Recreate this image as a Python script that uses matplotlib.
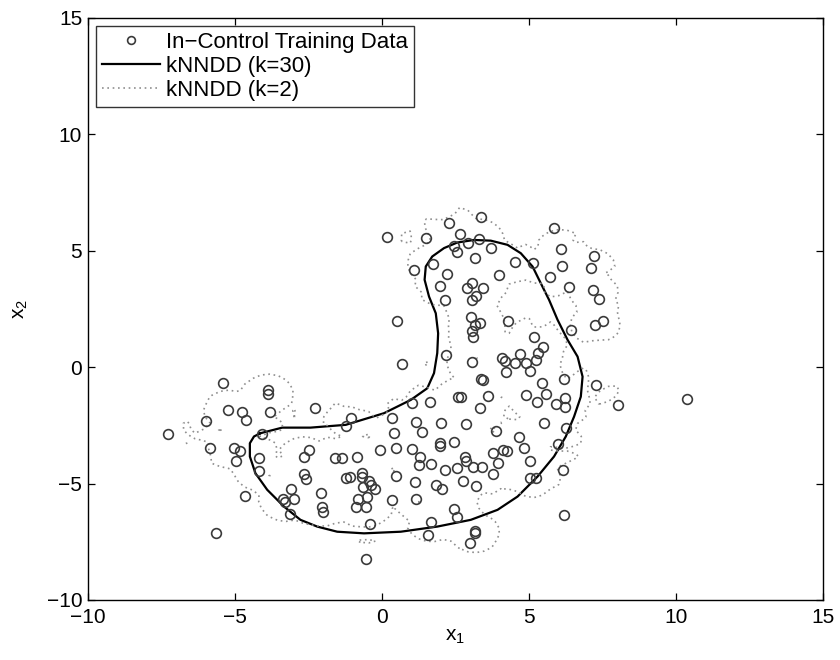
import numpy as np
import matplotlib
matplotlib.use("Agg")
import matplotlib.pyplot as plt

# ---- data ----
x1 = [-5.41, -3.86, -3.86, -5.22, -5.99, -4.77, -4.61, -3.80, -7.27, -4.08,
      -5.83, -5.04, -4.83, -4.95, -4.18, -4.18, -2.65, -2.48, -2.66, -2.58,
      -3.10, -3.35, -3.28, -3.00, -3.14, -4.65, -5.65,
      -2.26, -1.04, -1.23, 1.03, 1.65, 2.59, 2.70, 0.34, 1.15, 2.02, 2.86,
      0.41, 1.36, 1.96, 1.98, 2.44, -1.59, -1.35, -0.86, -0.07, 0.49, 1.02,
      1.31, 1.27, 1.68, 2.16, 2.54, 2.84, 2.86, 2.77, -1.23, -1.09, -0.68,
      -0.68, -0.44, -0.38, -0.63, -0.25, -0.50, -0.82, -0.89, -0.55, 0.49,
      1.11, 1.85, 2.04, 0.35, 1.17, -2.08, -2.03, -2.01, -0.42, 1.68, 2.44,
      2.54, 1.56, 2.98, -0.54,
      3.38, 3.45, 7.26, 8.02, 3.61, 3.33, 4.91, 5.26, 5.57, 5.91, 6.21, 6.21,
      3.89, 5.51, 6.24, 4.66, 4.83, 6.00, 3.77, 4.13, 4.24, 3.93, 3.11, 3.40,
      5.02, 3.78, 3.20, 5.02, 5.22, 6.17, 6.20, 3.16, 3.16, 10.36,
      0.16, 1.50, 2.29, 3.38, 2.65, 2.93, 3.29, 2.45, 2.54, 3.72, 3.16, 1.72,
      1.09, 2.22, 3.98, 1.97, 2.90, 3.05, 3.45, 3.19, 2.13, 3.07, 0.50, 3.02,
      3.16, 3.32, 3.07, 3.11, 4.29, 2.17, 0.69, 3.05, 4.08, 4.18, 4.23,
      5.85, 6.08, 6.11, 4.52, 5.15, 5.71, 6.35, 7.21, 7.10, 7.18, 7.38, 7.25,
      7.50, 6.44, 5.17, 5.46, 5.29, 4.68, 4.52, 4.89, 5.03, 5.23, 5.43, 6.19]
x2 = [-0.67, -1.00, -1.15, -1.84, -2.31, -1.91, -2.27, -1.95, -2.87, -2.87,
      -3.49, -3.49, -3.60, -4.03, -3.89, -4.46, -3.84, -3.58, -4.60, -4.81,
      -5.24, -5.67, -5.78, -5.65, -6.31, -5.55, -7.12,
      -1.74, -2.20, -2.53, -1.55, -1.52, -1.29, -1.27, -2.20, -2.37, -2.38, -2.45,
      -2.81, -2.77, -3.24, -3.41, -3.20, -3.91, -3.90, -3.88, -3.56, -3.46, -3.50,
      -3.87, -4.21, -4.16, -4.43, -4.32, -3.87, -4.03, -4.89, -4.75, -4.73, -4.56,
      -4.73, -4.88, -5.06, -5.16, -5.23, -5.59, -5.66, -5.99, -6.03, -4.66,
      -4.94, -5.07, -5.23, -5.70, -5.66, -5.42, -5.99, -6.21, -6.75, -6.65, -6.10,
      -6.42, -7.21, -7.57, -8.25,
      -0.53, -0.56, -0.75, -1.61, -1.24, -1.77, -1.19, -1.52, -1.16, -1.59, -1.34, -1.70,
      -2.73, -2.38, -2.60, -3.01, -3.48, -3.31, -3.67, -3.56, -3.60, -4.13, -4.30, -4.30,
      -4.02, -4.60, -5.12, -4.77, -4.77, -4.44, -6.35, -7.02, -7.12, -1.38,
      5.58, 5.55, 6.18, 6.44, 5.71, 5.35, 5.51, 5.18, 4.94, 5.13, 4.70, 4.42,
      4.18, 3.99, 3.96, 3.49, 3.39, 3.60, 3.41, 3.06, 2.86, 2.86, 2.00, 2.14,
      1.81, 1.91, 1.55, 1.31, 2.00, 0.52, 0.14, 0.20, 0.39, 0.28, -0.19,
      5.99, 5.06, 4.35, 4.51, 4.46, 3.86, 3.43, 4.79, 4.25, 3.29, 2.93, 1.81,
      2.00, 1.60, 1.31, 0.88, 0.62, 0.55, 0.17, 0.19, -0.16, 0.31, -0.67, -0.52]

# kNNDD (k=30) boundary
k30_x = [-4.13, -3.39, -2.43, -1.23, 0.07, 0.98, 1.54, 1.77, 1.88, 1.91,
         1.83, 1.60, 1.45, 1.49, 1.71, 2.11, 2.56, 3.13, 3.70, 4.27,
         4.72, 5.12, 5.40, 5.68, 5.97, 6.31, 6.65, 6.82, 6.76, 6.53,
         6.25, 5.85, 5.29, 4.61, 3.93, 3.02, 1.88, 0.64, -0.61, -1.52,
         -2.20, -2.77, -3.33, -3.90, -4.30, -4.49, -4.49, -4.35, -4.13]
k30_y = [-2.84, -2.60, -2.60, -2.48, -1.98, -1.41, -0.91, -0.26, 0.60, 1.45,
         2.31, 3.03, 3.75, 4.32, 4.75, 5.11, 5.35, 5.46, 5.43, 5.25,
         4.89, 4.32, 3.60, 2.89, 2.03, 1.17, 0.45, -0.41, -1.27, -2.13,
         -2.98, -3.84, -4.70, -5.56, -6.13, -6.56, -6.85, -7.07, -7.14, -7.07,
         -6.85, -6.56, -5.99, -5.27, -4.56, -3.84, -3.27, -2.98, -2.84]

k_small = 2
frac_reject_small = 0.28
labels = ["In\u2212Control Training Data", "kNNDD (k=30)", "kNNDD (k=2)"]
xticks = [-10, -5, 0, 5, 10, 15]
yticks = [-10, -5, 0, 5, 10, 15]

X = np.column_stack([x1, x2])


def knn_dist(points, train, k, exclude_self=False):
    out = []
    for i in range(0, len(points), 20000):
        p = points[i:i + 20000]
        d = np.sqrt(((p[:, None, :] - train[None, :, :]) ** 2).sum(-1))
        d = np.sort(d, axis=1)
        if exclude_self:
            d = d[:, 1:]
        out.append(d[:, k - 1])
    return np.concatenate(out)


plt.rcParams['font.family'] = ['Liberation Sans', 'DejaVu Sans']
plt.rcParams['mathtext.fontset'] = 'custom'
plt.rcParams['mathtext.rm'] = 'Liberation Sans'
plt.rcParams['mathtext.it'] = 'Liberation Sans'

fig = plt.figure(figsize=(8.4, 6.6), dpi=100)
ax = fig.add_axes([0.1045, 0.091, 0.8755, 0.882])

h_pts, = ax.plot(x1, x2, 'o', ls='none', mfc='none', mec='#3a3a3a',
                 mew=1.2, ms=7, label=labels[0], zorder=3)

h30, = ax.plot(k30_x, k30_y, color='black', lw=1.6, ls='solid',
               label=labels[1], zorder=2, solid_joinstyle='round')

dot_ls = (0, (1, 2.2))
g = np.linspace(-10, 15, 90)
GX, GY = np.meshgrid(g, g)
G = np.column_stack([GX.ravel(), GY.ravel()])
thr = np.quantile(knn_dist(X, X, k_small, exclude_self=True), 1 - frac_reject_small)
F = knn_dist(G, X, k_small).reshape(GX.shape)
ax.contour(GX, GY, F, levels=[thr], colors=['#8f8f8f'],
           linewidths=[1.2], linestyles=[dot_ls])
h2, = ax.plot([], [], color='#8f8f8f', lw=1.2, ls=dot_ls, label=labels[2])

ax.set_xlim(-10, 15)
ax.set_ylim(-10, 15)
ax.set_xticks(xticks)
ax.set_yticks(yticks)
ax.set_xticklabels([str(t).replace('-', '\u2212') for t in xticks])
ax.set_yticklabels([str(t).replace('-', '\u2212') for t in yticks])
ax.tick_params(direction='in', top=True, right=True, length=5, width=0.9,
               labelsize=15)
ax.tick_params(axis='x', pad=6)
ax.tick_params(axis='y', pad=4)
for s in ax.spines.values():
    s.set_linewidth(1.0)
ax.set_xlabel(r'x$_1$', fontsize=15, labelpad=0)
ax.set_ylabel(r'x$_2$', fontsize=15, labelpad=12)

leg = ax.legend(handles=[h_pts, h30, h2], loc='upper left', fontsize=16,
                frameon=True, fancybox=False, edgecolor='black',
                borderpad=0.3, labelspacing=0.12, handlelength=2.6,
                handletextpad=0.25, borderaxespad=0.35, markerscale=0.8)
leg.get_frame().set_linewidth(1.0)

fig.savefig('out.png', dpi=100)
